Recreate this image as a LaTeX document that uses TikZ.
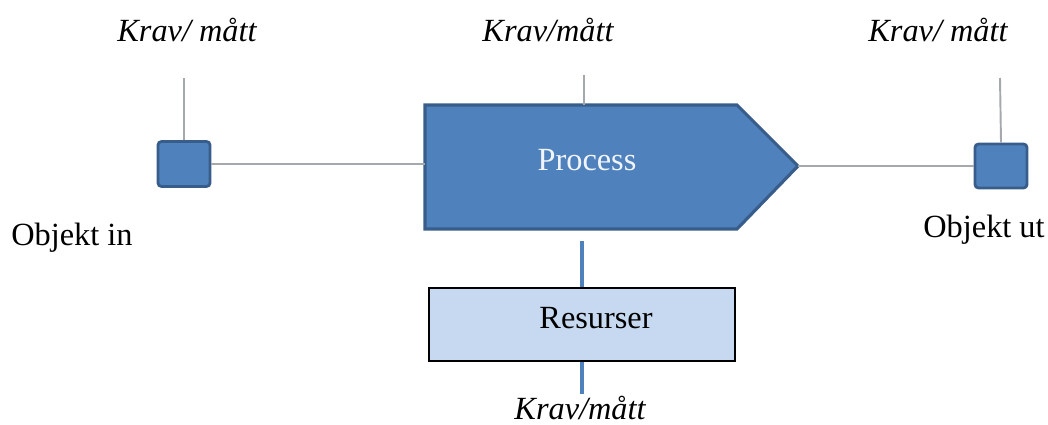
\documentclass[tikz,border=0pt]{standalone}
\usepackage{fontspec}
\setmainfont{Liberation Serif}
\usepackage{tikz}
\usetikzlibrary{calc}

\definecolor{accblue}{HTML}{4F81BD}
\definecolor{accdark}{HTML}{385D8A}
\definecolor{reslight}{HTML}{C6D9F1}
\definecolor{linegray}{HTML}{A5A9AE}

\tikzset{
    objbox/.style = {draw = accdark, fill = accblue, line width = 0.8pt, rounded corners = 1pt,
                     minimum width = 0.52cm, minimum height = 0.45cm, inner sep = 0pt},
    resbox/.style = {draw = black, fill = reslight, line width = 0.6pt,
                     minimum width = 3.06cm, minimum height = 0.73cm, inner sep = 0pt},
    thin line/.style = {draw = linegray, line width = 0.55pt},
    res line/.style = {draw = accblue, line width = 0.9pt},
    lbl/.style = {font = \fontsize{9.2}{11}\selectfont, inner sep = 0pt}
}

\begin{document}
\begin{tikzpicture}
    \useasboundingbox (0,0) rectangle (10.48,4.24);

    % the process arrow
    \coordinate (pL) at (4.25,2.60);
    \coordinate (pT) at (5.84,3.19);
    \coordinate (pTip) at (7.98,2.58);
    \filldraw[fill = accblue, draw = accdark, line width = 0.9pt, line join = miter]
        (4.25,3.19) -- (7.37,3.19) -- (pTip) -- (7.37,1.95) -- (4.25,1.95) -- cycle;
    \node[lbl, text = white!92!accblue] (proc) at (5.87,2.64) {Process};

    % objects in and out
    \node[objbox] (objin) at (1.84,2.60) {};
    \node[objbox, minimum height = 0.44cm] (objut) at (10.01,2.58) {};
    \coordinate (inTop) at (1.84,3.46);
    \coordinate (utTop) at (10.00,3.46);
    \coordinate (pTop) at (5.84,3.49);

    \draw[thin line] (objin.east) -- (pL);
    \draw[thin line] (pTip) -- (objut.west);
    \draw[thin line] (objin.north) -- (inTop);
    \draw[thin line] (objut.north) -- (utTop);
    \draw[thin line] (pT) -- (pTop);

    % resources below
    \node[resbox] (res) at (5.82,0.995) {};
    \node[lbl] (restext) at (5.96,1.06) {Resurser};
    \coordinate (pB) at (5.82,1.83);
    \coordinate (resBot) at (5.82,0.30);
    \draw[res line] (pB) -- (res.north);
    \draw[res line] (res.south) -- (resBot);

    % labels
    \node[lbl] (kravin) at (1.87,3.94) {\itshape Krav/ mått};
    \node[lbl] (kravp) at (5.48,3.94) {\itshape Krav/mått};
    \node[lbl] (kravut) at (9.38,3.94) {\itshape Krav/ mått};
    \node[lbl] (kravres) at (5.80,0.16) {\itshape Krav/mått};
    \node[lbl] (lblin) at (0.72,1.86) {Objekt in};
    \node[lbl] (lblut) at (9.84,1.94) {Objekt ut};
\end{tikzpicture}
\end{document}
